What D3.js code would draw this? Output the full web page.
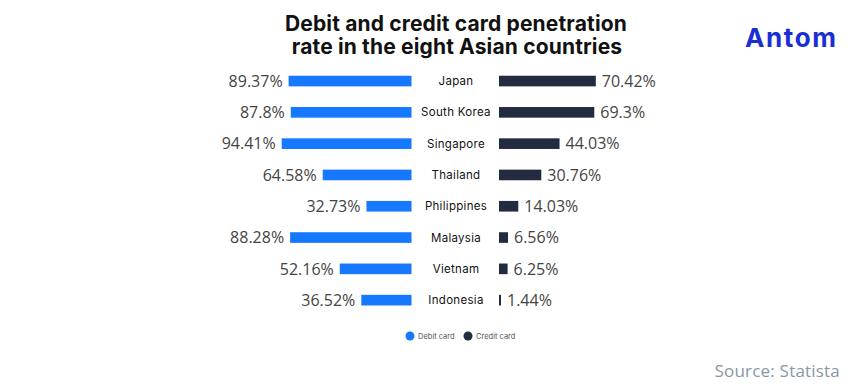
<!DOCTYPE html>
<html>
<head>
<meta charset="utf-8">
<script src="https://cdn.jsdelivr.net/npm/d3@7"></script>
<style>
  body { margin: 0; background: #fff; }
  svg { display: block; }
</style>
</head>
<body>
<div id="chart"></div>
<script>
var countries = ["Japan", "South Korea", "Singapore", "Thailand", "Philippines", "Malaysia", "Vietnam", "Indonesia"];
var debitValues = [89.37, 87.8, 94.41, 64.58, 32.73, 88.28, 52.16, 36.52];
var creditValues = [70.42, 69.3, 44.03, 30.76, 14.03, 6.56, 6.25, 1.44];
var debitLabels = ["89.37%", "87.8%", "94.41%", "64.58%", "32.73%", "88.28%", "52.16%", "36.52%"];
var creditLabels = ["70.42%", "69.3%", "44.03%", "30.76%", "14.03%", "6.56%", "6.25%", "1.44%"];
var seriesNames = ["Debit card", "Credit card"];

var width = 861, height = 386;
var debitColor = "#1677ff", creditColor = "#222b40";
var labelFont = "Inter, 'Noto Sans', sans-serif";

var svg = d3.select("#chart").append("svg")
  .attr("width", width)
  .attr("height", height);

// title
var title = svg.append("text")
  .attr("text-anchor", "middle")
  .attr("font-family", labelFont)
  .attr("font-weight", 700)
  .attr("font-size", 21)
  .attr("letter-spacing", 0.15)
  .attr("fill", "#111");
title.append("tspan").attr("x", 456).attr("y", 31).text("Debit and credit card penetration");
title.append("tspan").attr("x", 457).attr("y", 54).text("rate in the eight Asian countries");

// logo
svg.append("text")
  .attr("x", 745)
  .attr("y", 47)
  .attr("font-family", labelFont)
  .attr("font-weight", 700)
  .attr("font-size", 26)
  .attr("letter-spacing", 1.6)
  .attr("fill", "#1b2ed3")
  .text("Antom");

var y = d3.scaleBand()
  .domain(countries)
  .range([65.4, 315.8])
  .paddingInner(0.66)
  .paddingOuter(0.33);

// debit grows left from 411, credit grows right from 499
var xDebit = d3.scaleLinear().domain([0, 100]).range([411.5, 274]);
var xCredit = d3.scaleLinear().domain([0, 100]).range([499, 636.5]);

var rows = svg.append("g").selectAll("g")
  .data(countries)
  .enter()
  .append("g");

rows.append("rect")
  .attr("x", function(d, i) { return xDebit(debitValues[i]); })
  .attr("y", function(d) { return y(d); })
  .attr("width", function(d, i) { return xDebit(0) - xDebit(debitValues[i]); })
  .attr("height", y.bandwidth())
  .attr("fill", debitColor);

rows.append("rect")
  .attr("x", xCredit(0))
  .attr("y", function(d) { return y(d); })
  .attr("width", function(d, i) { return Math.max(2, xCredit(creditValues[i]) - xCredit(0)); })
  .attr("height", y.bandwidth())
  .attr("fill", creditColor);

var valueFont = "'Open Sans', 'Noto Sans', sans-serif";

rows.append("text")
  .attr("x", function(d, i) { return xDebit(debitValues[i]) - 6; })
  .attr("y", function(d) { return y(d) + y.bandwidth() / 2; })
  .attr("dy", "0.36em")
  .attr("text-anchor", "end")
  .attr("font-family", valueFont)
  .attr("font-size", 16)
  .attr("fill", "#444")
  .text(function(d, i) { return debitLabels[i]; });

rows.append("text")
  .attr("x", function(d, i) { return xCredit(0) + Math.max(2, xCredit(creditValues[i]) - xCredit(0)) + 6; })
  .attr("y", function(d) { return y(d) + y.bandwidth() / 2; })
  .attr("dy", "0.36em")
  .attr("font-family", valueFont)
  .attr("font-size", 16)
  .attr("fill", "#444")
  .text(function(d, i) { return creditLabels[i]; });

rows.append("text")
  .attr("x", 456)
  .attr("y", function(d) { return y(d) + y.bandwidth() / 2; })
  .attr("dy", "0.36em")
  .attr("text-anchor", "middle")
  .attr("font-family", labelFont)
  .attr("font-weight", 400)
  .attr("font-size", 11.5)
  .attr("letter-spacing", 0.3)
  .attr("fill", "#111")
  .text(function(d) { return d; });

// legend
var legendX = [410, 468];
var legend = svg.append("g").selectAll("g")
  .data(seriesNames)
  .enter()
  .append("g")
  .attr("transform", function(d, i) { return "translate(" + legendX[i] + ",336)"; });

legend.append("circle")
  .attr("r", 4.5)
  .attr("fill", function(d, i) { return i === 0 ? debitColor : creditColor; });

legend.append("text")
  .attr("x", 8)
  .attr("dy", "0.35em")
  .attr("font-family", labelFont)
  .attr("font-size", 7.5)
  .attr("fill", "#555")
  .text(function(d) { return d; });

// source
svg.append("text")
  .attr("x", 840)
  .attr("y", 377)
  .attr("text-anchor", "end")
  .attr("font-family", "'Open Sans', 'Noto Sans', sans-serif")
  .attr("font-size", 17)
  .attr("letter-spacing", 0.2)
  .attr("fill", "#8797a8")
  .text("Source: Statista");
</script>
</body>
</html>
